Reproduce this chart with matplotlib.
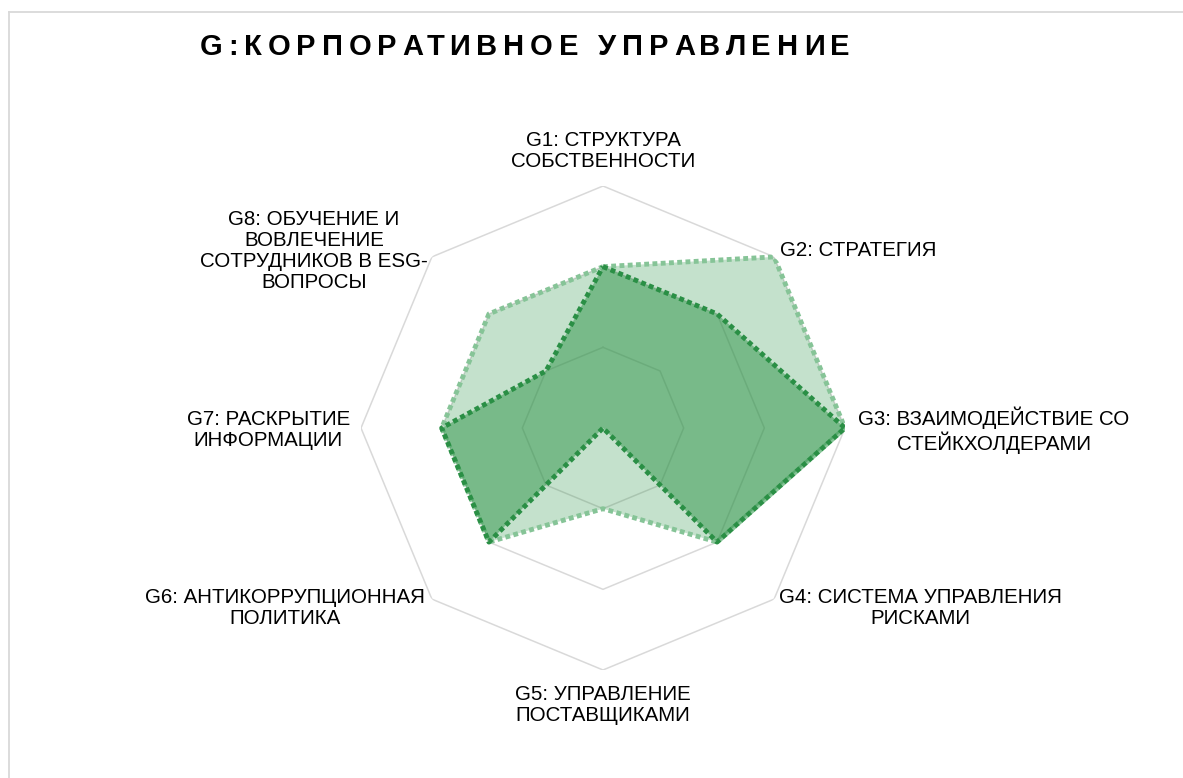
import numpy as np
import matplotlib
matplotlib.use("Agg")
import matplotlib.pyplot as plt
from matplotlib.lines import Line2D
from matplotlib.font_manager import FontProperties

# ---- data ----
categories = [
    "G1: СТРУКТУРА\nСОБСТВЕННОСТИ",
    "G2: СТРАТЕГИЯ",
    "G3: ВЗАИМОДЕЙСТВИЕ СО\nСТЕЙКХОЛДЕРАМИ",
    "G4: СИСТЕМА УПРАВЛЕНИЯ\nРИСКАМИ",
    "G5: УПРАВЛЕНИЕ\nПОСТАВЩИКАМИ",
    "G6: АНТИКОРРУПЦИОННАЯ\nПОЛИТИКА",
    "G7: РАСКРЫТИЕ\nИНФОРМАЦИИ",
    "G8: ОБУЧЕНИЕ И\nВОВЛЕЧЕНИЕ\nСОТРУДНИКОВ В ESG-\nВОПРОСЫ",
]
series_light = [2, 3, 3, 2, 1, 2, 2, 2]
series_dark = [2, 2, 3, 2, 0, 2, 2, 1]
grid_levels = [1, 2, 3]
title = "G:КОРПОРАТИВНОЕ УПРАВЛЕНИЕ"

W, H = 1183, 778
fig = plt.figure(figsize=(W / 100, H / 100), dpi=100)
fig.patch.set_facecolor("white")

def px(x, y):
    return x / W, 1 - y / H

# border (top and left visible)
fig.add_artist(Line2D([9 / W, 9 / W], [0, 1 - 12 / H], color="#d9d9d9", lw=1.3,
                      transform=fig.transFigure))
fig.add_artist(Line2D([9 / W, 1], [1 - 12 / H, 1 - 12 / H], color="#d9d9d9", lw=1.3,
                      transform=fig.transFigure))

cx, cy, R = 603, 428, 242
ax = fig.add_axes([(cx - R) / W, (H - cy - R) / H, 2 * R / W, 2 * R / H],
                  projection="polar")
ax.set_theta_zero_location("N")
ax.set_theta_direction(-1)
ax.set_ylim(0, 3)
ax.axis("off")

n = len(categories)
theta = np.linspace(0, 2 * np.pi, n, endpoint=False)
theta_c = np.append(theta, theta[0])

for lvl in grid_levels:
    ax.plot(theta_c, [lvl] * (n + 1), color="#d9d9d9", lw=1.1, zorder=1)

green = "#2e9448"
light = np.append(series_light, series_light[0])
dark = np.append(series_dark, series_dark[0])

ax.fill(theta_c, light, color=green, alpha=0.28, lw=0, zorder=2)
ax.plot(theta_c, light, color="#86c497", lw=3.5, linestyle=(0, (1.0, 0.7)),
        dash_capstyle="butt", zorder=3)
ax.fill(theta_c, dark, color=green, alpha=0.5, lw=0, zorder=4)
ax.plot(theta_c, dark, color="#2a8f45", lw=3.5, linestyle=(0, (1.0, 0.7)),
        dash_capstyle="butt", zorder=5)

# category labels
lab_font = dict(family=["Liberation Sans", "DejaVu Sans"], fontsize=14.8, color="black",
                multialignment="center", linespacing=1.15)
label_pos = [
    (603, 151, "center"),
    (780, 251, "left"),
    (858, 430, "left"),
    (779, 608, "left"),
    (603, 705, "center"),
    (425, 608, "right"),
    (350, 430, "right"),
    (428, 251, "right"),
]
for text, (x, y, ha) in zip(categories, label_pos):
    fig.text(*px(x, y), text, ha=ha, va="center", **lab_font)

# title with letter spacing
renderer = fig.canvas.get_renderer()
tprop = FontProperties(family=["Liberation Sans", "DejaVu Sans"], weight="bold", size=21)
def adv(s):
    if not s:
        return 0.0
    w, h, d = renderer.get_text_width_height_descent(s.replace(" ", "\u00a0"), tprop, ismath=False)
    return w
x0, x1, base = 200, 850, 55
full = adv(title)
sp = (x1 - x0 - full) / (len(title) - 1)
for i, ch in enumerate(title):
    if ch == " ":
        continue
    xi = x0 + adv(title[:i]) + i * sp
    fig.text(*px(xi, base), ch, ha="left", va="baseline", fontproperties=tprop, color="black")

fig.savefig("out.png", dpi=100, facecolor="white")
